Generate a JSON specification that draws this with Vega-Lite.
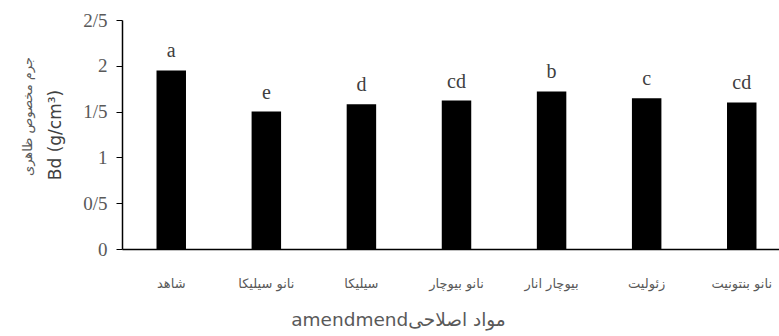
{
  "$schema": "https://vega.github.io/schema/vega-lite/v6.json",
  "autosize": {"type": "none"},
  "width": 657,
  "height": 229,
  "padding": {"left": 122, "top": 20, "right": 0, "bottom": 87},
  "background": "white",
  "title": {
    "text": "جرم مخصوص ظاهری",
    "orient": "left",
    "anchor": "middle",
    "font": "DejaVu Sans",
    "fontSize": 13,
    "fontWeight": "normal",
    "color": "#595959",
    "offset": 12,
    "dx": 18
  },
  "data": {
    "values": [
      {"treatment": "شاهد", "bd": 1.95, "group": "a"},
      {"treatment": "نانو سیلیکا", "bd": 1.50, "group": "e"},
      {"treatment": "سیلیکا", "bd": 1.58, "group": "d"},
      {"treatment": "نانو بیوچار", "bd": 1.62, "group": "cd"},
      {"treatment": "بیوچار انار", "bd": 1.72, "group": "b"},
      {"treatment": "زئولیت", "bd": 1.645, "group": "c"},
      {"treatment": "نانو بنتونیت", "bd": 1.60, "group": "cd"}
    ]
  },
  "encoding": {
    "x": {
      "field": "treatment",
      "type": "nominal",
      "sort": null,
      "scale": {"range": [0, 669], "paddingInner": 0.69, "paddingOuter": 0.363},
      "axis": {
        "title": "amendmendمواد اصلاحی",
        "titleFont": "DejaVu Sans",
        "titleFontSize": 18.5,
        "titleFontWeight": "normal",
        "titleColor": "#595959",
        "titleX": 276,
        "titlePadding": 20,
        "labelAngle": 0,
        "labelFont": "DejaVu Sans",
        "labelFontSize": 13,
        "labelColor": "#595959",
        "labelPadding": 28,
        "ticks": false,
        "domainColor": "#000000",
        "domainWidth": 1.5
      }
    },
    "y": {
      "field": "bd",
      "type": "quantitative",
      "scale": {"domain": [0, 2.5], "nice": false},
      "axis": {
        "values": [0, 0.5, 1, 1.5, 2, 2.5],
        "labelExpr": "replace(format(datum.value, '.1~f'), '.', '/')",
        "title": "Bd (g/cm³)",
        "titleFont": "DejaVu Sans",
        "titleFontSize": 17,
        "titleFontWeight": "normal",
        "titleColor": "#404040",
        "titlePadding": 18,
        "labelFont": "Liberation Serif",
        "labelFontSize": 19,
        "labelColor": "#595959",
        "labelPadding": 9,
        "tickSize": 6,
        "tickColor": "#000000",
        "domainColor": "#000000",
        "domainWidth": 1.5,
        "grid": false
      }
    }
  },
  "layer": [
    {
      "mark": {"type": "bar", "color": "#000000"}
    },
    {
      "mark": {
        "type": "text",
        "baseline": "alphabetic",
        "dy": -13,
        "font": "Liberation Serif",
        "fontSize": 20,
        "color": "#404040"
      },
      "encoding": {
        "text": {"field": "group"}
      }
    }
  ],
  "config": {
    "view": {"stroke": null}
  }
}
